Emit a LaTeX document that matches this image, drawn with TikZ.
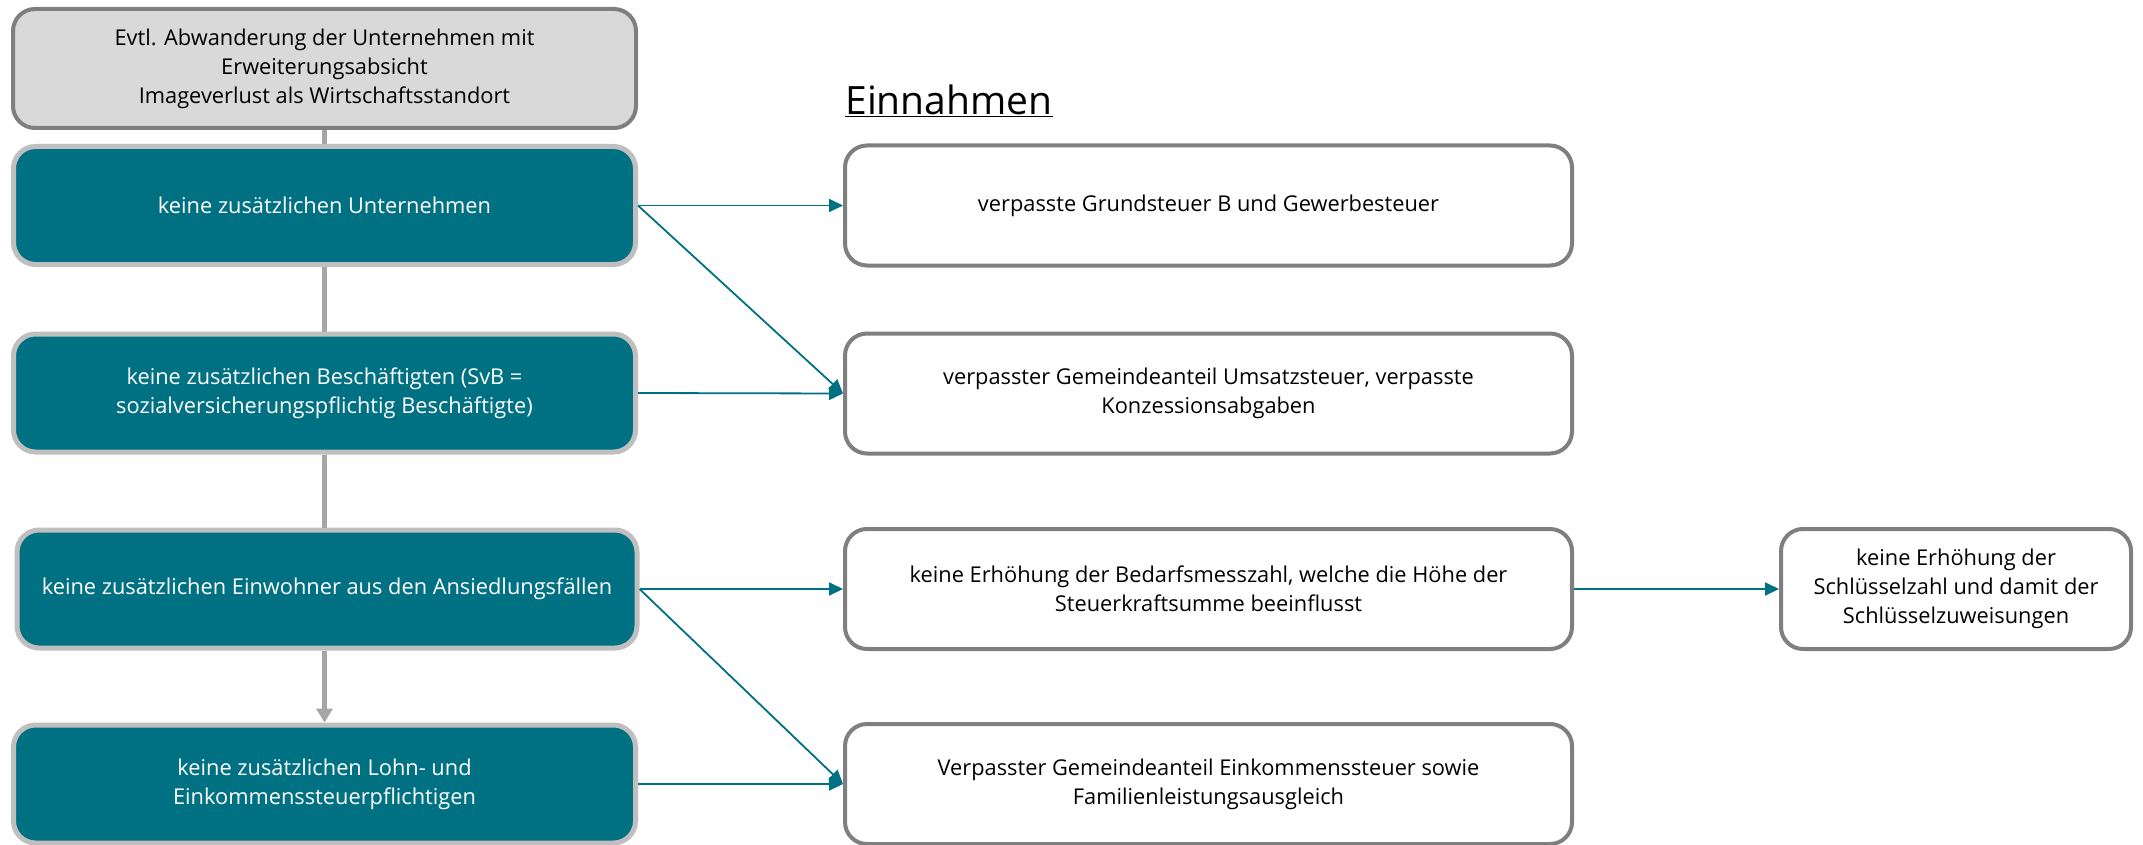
\documentclass[tikz,border=0pt]{standalone}
\usepackage{fontspec}
\setmainfont{Open Sans}
\usetikzlibrary{arrows.meta}
\definecolor{tealbox}{RGB}{0,112,131}
\definecolor{rimgray}{RGB}{191,191,191}
\definecolor{darkrim}{RGB}{127,127,127}
\definecolor{linegray}{RGB}{166,166,166}
\definecolor{topfill}{RGB}{217,217,217}
\begin{document}
\begin{tikzpicture}[x=1pt, y=-1pt, font=\fontsize{21.8}{29}\selectfont]
\tikzstyle{cause_style} = [rectangle, rounded corners=22pt, draw=rimgray, line width=5pt, fill=tealbox, text=white, align=center, minimum width=622pt, minimum height=118pt, inner sep=0pt]
\tikzstyle{top_style} = [rectangle, rounded corners=22pt, draw=darkrim, line width=4pt, fill=topfill, align=center, minimum width=623pt, minimum height=119pt, inner sep=0pt]
\tikzstyle{loss_style} = [rectangle, rounded corners=22pt, draw=darkrim, line width=4pt, fill=white, align=center, minimum width=727pt, minimum height=120pt, inner sep=0pt]
\tikzstyle{edge_style} = [draw=tealbox, line width=1.8pt, -{Triangle[length=14pt,width=13pt]}]
\tikzstyle{chain_style} = [draw=linegray, line width=5pt]

\useasboundingbox (0,0) rectangle (2143,845);

\node[top_style] (t0) at (324.5,68.5) {Evtl. Abwanderung der Unternehmen mit\\Erweiterungsabsicht\\Imageverlust als Wirtschaftsstandort};

\node[cause_style] (u1) at (324.5,205.5) {keine zusätzlichen Unternehmen};
\node[cause_style] (u2) at (324.5,393) {keine zusätzlichen Beschäftigten (SvB =\\sozialversicherungspflichtig Beschäftigte)};
\node[cause_style, minimum width=620pt] (u3) at (327,589) {keine zusätzlichen Einwohner aus den Ansiedlungsfällen};
\node[cause_style] (u4) at (324.5,784) {keine zusätzlichen Lohn- und\\Einkommenssteuerpflichtigen};

\node[font=\fontsize{39}{44}\selectfont] (head) at (949,101) {\underline{Einnahmen}};

\node[loss_style] (e1) at (1208.5,205.5) {verpasste Grundsteuer B und Gewerbesteuer};
\node[loss_style] (e2) at (1208.5,393.5) {verpasster Gemeindeanteil Umsatzsteuer, verpasste\\Konzessionsabgaben};
\node[loss_style] (e3) at (1208.5,589) {keine Erhöhung der Bedarfsmesszahl, welche die Höhe der\\Steuerkraftsumme beeinflusst};
\node[loss_style] (e4) at (1208.5,784) {Verpasster Gemeindeanteil Einkommenssteuer sowie\\Familienleistungsausgleich};
\node[loss_style, minimum width=350pt] (s1) at (1956,589) {keine Erhöhung der\\Schlüsselzahl und damit der\\Schlüsselzuweisungen};

\draw[chain_style] (t0) -- (u1);
\draw[chain_style] (u1) -- (u2);
\draw[chain_style] (u2.south) -- (u2.south |- u3.north);
\draw[chain_style, -{Triangle[length=14pt,width=16pt]}] (u3.south -| u4.north) -- (u4.north);

\draw[edge_style] (u1.east) -- (e1.west);
\draw[edge_style] (u1.east) -- (e2.west);
\draw[edge_style] (u2.east) -- (e2.west);
\draw[edge_style] (u3.east) -- (e3.west);
\draw[edge_style] (u3.east) -- (e4.west);
\draw[edge_style] (u4.east) -- (e4.west);
\draw[edge_style] (e3.east) -- (s1.west);
\end{tikzpicture}
\end{document}
